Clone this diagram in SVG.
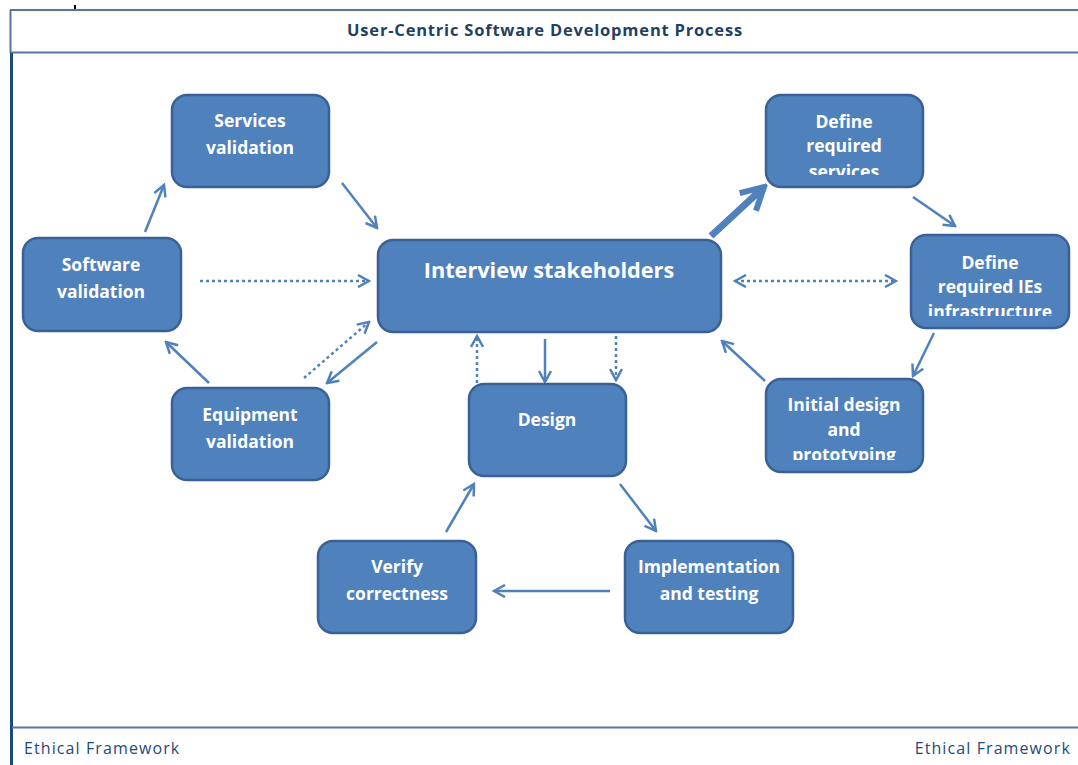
<svg xmlns="http://www.w3.org/2000/svg" width="1078" height="765" viewBox="0 0 1078 765">
<style>
.node rect{fill:#4f81bd;stroke:#3a6195;stroke-width:2.5}
.nt{font-family:"Open Sans","Liberation Sans",sans-serif;font-weight:bold;font-size:17.5px;fill:#ffffff;text-anchor:middle}
.big{font-size:21.7px}
.c{stroke:#4f81bd;stroke-width:2.5;fill:none}
.d{stroke-dasharray:3 3}
.title{font-family:"Open Sans","Liberation Sans",sans-serif;font-weight:bold;font-size:16.5px;letter-spacing:0.8px;fill:#243f60;text-anchor:middle}
.foot{font-family:"Open Sans","Liberation Sans",sans-serif;font-size:16px;letter-spacing:1.1px;fill:#1f497d}
</style>
<defs>
<marker id="a" markerUnits="userSpaceOnUse" viewBox="0 0 14 14" refX="12" refY="7" markerWidth="14" markerHeight="14" orient="auto-start-reverse">
<path d="M1,1 L12,7 L1,13" fill="none" stroke="#4f81bd" stroke-width="2.5"/>
</marker>
<marker id="ab" markerUnits="userSpaceOnUse" viewBox="0 0 30 30" refX="26" refY="15" markerWidth="30" markerHeight="30" orient="auto">
<path d="M4,3 L26,15 L4,27" fill="none" stroke="#4f81bd" stroke-width="6" stroke-linejoin="miter"/>
</marker>
<clipPath id="c1"><rect x="766" y="95" width="158" height="80"/></clipPath>
<clipPath id="c2"><rect x="911" y="235" width="158" height="81"/></clipPath>
<clipPath id="c3"><rect x="766" y="379" width="158" height="81"/></clipPath>
</defs>
<rect x="0" y="0" width="1078" height="765" fill="#ffffff"/>
<g id="frame">
<line x1="75" y1="5" x2="75" y2="10" stroke="#000" stroke-width="2"/>
<line x1="10" y1="10" x2="1078" y2="10" stroke="#5874a0" stroke-width="2"/>
<line x1="10" y1="52.5" x2="1078" y2="52.5" stroke="#5874a0" stroke-width="2"/>
<line x1="10.5" y1="10" x2="10.5" y2="53" stroke="#5874a0" stroke-width="2"/>
<line x1="11.5" y1="53" x2="11.5" y2="765" stroke="#1f497d" stroke-width="3"/>
<line x1="12" y1="727.5" x2="1078" y2="727.5" stroke="#5874a0" stroke-width="2"/>
<text class="title" x="545" y="36">User-Centric Software Development Process</text>
<text class="foot" x="24" y="754">Ethical Framework</text>
<text class="foot" x="1071" y="754" text-anchor="end">Ethical Framework</text>
</g>
<g id="connectors">
<line class="c" x1="145" y1="232" x2="164" y2="185" marker-end="url(#a)"/>
<line class="c" x1="342" y1="183" x2="377" y2="228" marker-end="url(#a)"/>
<line x1="711" y1="236" x2="764" y2="187" stroke="#4f81bd" stroke-width="7" marker-end="url(#ab)"/>
<line class="c" x1="913" y1="197" x2="955" y2="226" marker-end="url(#a)"/>
<line class="c" x1="934" y1="333" x2="913" y2="376" marker-end="url(#a)"/>
<line class="c" x1="765" y1="381" x2="722" y2="341" marker-end="url(#a)"/>
<line class="c d" x1="735" y1="281" x2="896" y2="281" marker-start="url(#a)" marker-end="url(#a)"/>
<line class="c d" x1="200" y1="281" x2="369" y2="281" marker-end="url(#a)"/>
<line class="c d" x1="304" y1="378" x2="369" y2="322" marker-end="url(#a)"/>
<line class="c" x1="377" y1="342" x2="327" y2="383" marker-end="url(#a)"/>
<line class="c" x1="209" y1="383" x2="166" y2="342" marker-end="url(#a)"/>
<line class="c" x1="545" y1="339" x2="545" y2="382" marker-end="url(#a)"/>
<line class="c d" x1="477" y1="383" x2="477" y2="336" marker-end="url(#a)"/>
<line class="c d" x1="616" y1="336" x2="616" y2="380" marker-end="url(#a)"/>
<line class="c" x1="620" y1="484" x2="656" y2="531" marker-end="url(#a)"/>
<line class="c" x1="610" y1="591" x2="494" y2="591" marker-end="url(#a)"/>
<line class="c" x1="446" y1="532" x2="474" y2="484" marker-end="url(#a)"/>
</g>
<g id="services-validation" class="node">
<rect x="172" y="95" width="157" height="92" rx="15"/>
<text class="nt" x="250" y="127">Services</text>
<text class="nt" x="250" y="154">validation</text>
</g>
<g id="software-validation" class="node">
<rect x="23" y="238" width="158" height="93" rx="15"/>
<text class="nt" x="101" y="271">Software</text>
<text class="nt" x="101" y="298">validation</text>
</g>
<g id="equipment-validation" class="node">
<rect x="172" y="388" width="157" height="92" rx="15"/>
<text class="nt" x="250" y="421">Equipment</text>
<text class="nt" x="250" y="448">validation</text>
</g>
<g id="interview-stakeholders" class="node">
<rect x="378" y="240" width="343" height="92" rx="15"/>
<text class="nt big" x="549" y="278">Interview stakeholders</text>
</g>
<g id="define-required-services" class="node">
<rect x="766" y="95" width="157" height="92" rx="15"/>
<g clip-path="url(#c1)">
<text class="nt" x="844" y="128">Define</text>
<text class="nt" x="844" y="152">required</text>
<text class="nt" x="844" y="178">services</text>
</g>
</g>
<g id="define-required-ies" class="node">
<rect x="911" y="235" width="158" height="93" rx="15"/>
<g clip-path="url(#c2)">
<text class="nt" x="990" y="269">Define</text>
<text class="nt" x="990" y="293">required IEs</text>
<text class="nt" x="990" y="318">infrastructure</text>
</g>
</g>
<g id="initial-design" class="node">
<rect x="766" y="379" width="157" height="93" rx="15"/>
<g clip-path="url(#c3)">
<text class="nt" x="844" y="411">Initial design</text>
<text class="nt" x="844" y="436">and</text>
<text class="nt" x="844" y="461">prototyping</text>
</g>
</g>
<g id="design" class="node">
<rect x="469" y="384" width="157" height="92" rx="15"/>
<text class="nt" x="547" y="426">Design</text>
</g>
<g id="verify-correctness" class="node">
<rect x="318" y="541" width="158" height="92" rx="15"/>
<text class="nt" x="397" y="573">Verify</text>
<text class="nt" x="397" y="600">correctness</text>
</g>
<g id="implementation-testing" class="node">
<rect x="625" y="541" width="168" height="92" rx="15"/>
<text class="nt" x="709" y="573">Implementation</text>
<text class="nt" x="709" y="600">and testing</text>
</g>
</svg>
